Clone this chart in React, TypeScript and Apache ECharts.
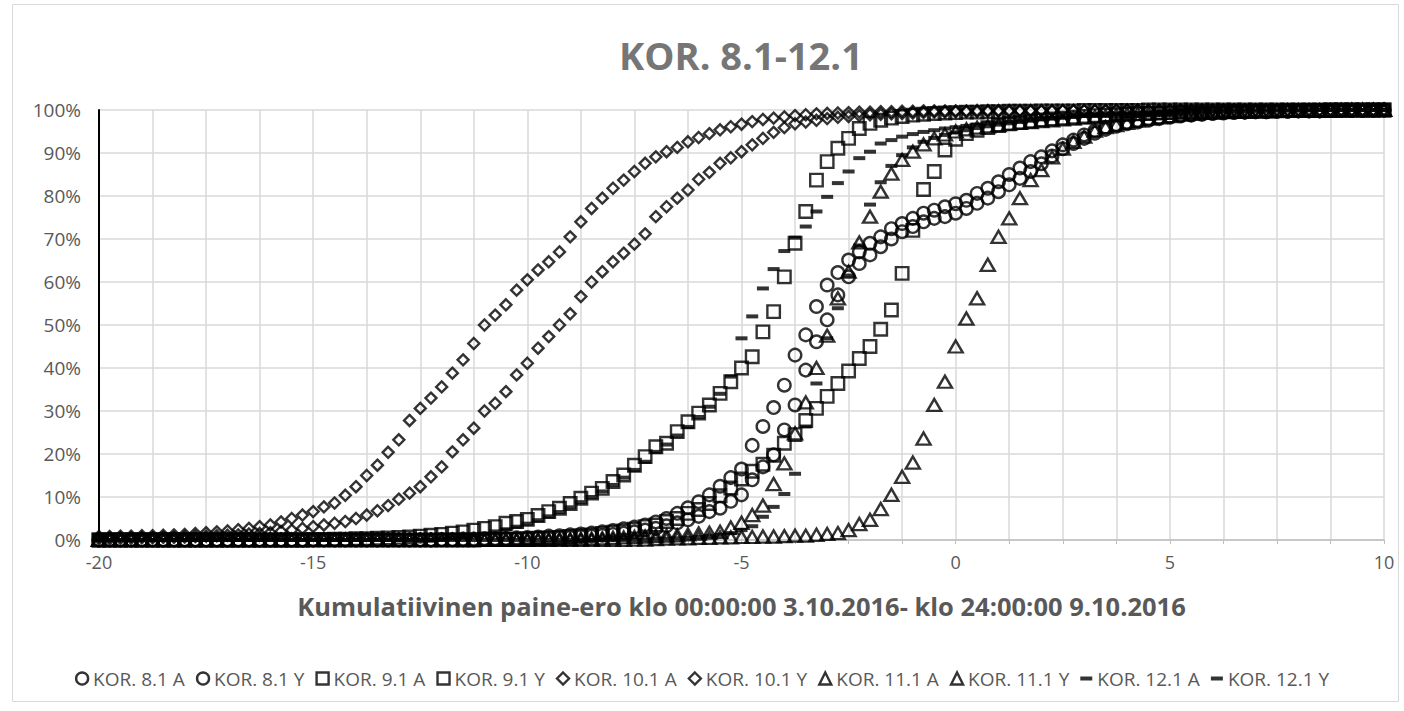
import React, { useEffect, useRef } from "react";
import * as echarts from "echarts";

const X_VALUES = [
  -20, -19.75, -19.5, -19.25, -19, -18.75, -18.5, -18.25, -18, -17.75, -17.5, -17.25, -17, -16.75, -16.5, -16.25, -16, -15.75, -15.5, -15.25,
  -15, -14.75, -14.5, -14.25, -14, -13.75, -13.5, -13.25, -13, -12.75, -12.5, -12.25, -12, -11.75, -11.5, -11.25, -11, -10.75, -10.5, -10.25,
  -10, -9.75, -9.5, -9.25, -9, -8.75, -8.5, -8.25, -8, -7.75, -7.5, -7.25, -7, -6.75, -6.5, -6.25, -6, -5.75, -5.5, -5.25,
  -5, -4.75, -4.5, -4.25, -4, -3.75, -3.5, -3.25, -3, -2.75, -2.5, -2.25, -2, -1.75, -1.5, -1.25, -1, -0.75, -0.5, -0.25,
  0, 0.25, 0.5, 0.75, 1, 1.25, 1.5, 1.75, 2, 2.25, 2.5, 2.75, 3, 3.25, 3.5, 3.75, 4, 4.25, 4.5, 4.75,
  5, 5.25, 5.5, 5.75, 6, 6.25, 6.5, 6.75, 7, 7.25, 7.5, 7.75, 8, 8.25, 8.5, 8.75, 9, 9.25, 9.5, 9.75,
  10,
];

const KOR_8_1_A = [
  0, 0, 0, 0, 0, 0, 0, 0, 0, 0, 0, 0, 0, 0, 0, 0, 0, 0, 0, 0,
  0, 0, 0, 0, 0, 0, 0, 0, 0, 0, 0, 0, 0.1, 0.1, 0.2, 0.2, 0.3, 0.3, 0.4, 0.5,
  0.6, 0.7, 0.9, 1.0, 1.2, 1.4, 1.6, 1.9, 2.2, 2.6, 3.0, 3.5, 4.2, 5.0, 6.2, 7.5, 8.9, 10.5, 12.5, 14.5,
  16.5, 22.0, 26.4, 30.8, 36.0, 43.0, 47.7, 54.3, 59.3, 62.2, 65.1, 67.0, 69.0, 70.5, 72.4, 73.6, 74.8, 76.0, 76.7, 77.5,
  78.2, 79.0, 80.6, 81.8, 83.3, 85.0, 86.5, 88.0, 89.1, 90.5, 91.9, 93.0, 94.2, 95.2, 96.0, 96.6, 97.1, 97.5, 97.9, 98.2,
  98.5, 98.7, 98.9, 99.1, 99.3, 99.4, 99.5, 99.5, 99.6, 99.6, 99.7, 99.7, 99.8, 99.8, 99.8, 99.9, 99.9, 99.9, 99.9, 99.9,
  100,
];

const KOR_8_1_Y = [
  0, 0, 0, 0, 0, 0, 0, 0, 0, 0, 0, 0, 0, 0, 0, 0, 0, 0, 0, 0,
  0, 0, 0, 0, 0, 0, 0, 0, 0, 0, 0, 0, 0, 0, 0, 0, 0.1, 0.1, 0.2, 0.2,
  0.3, 0.4, 0.4, 0.5, 0.6, 0.8, 0.9, 1.1, 1.3, 1.6, 1.9, 2.3, 2.7, 3.3, 4.0, 4.7, 5.5, 6.6, 7.4, 9.0,
  10.5, 14.0, 17.0, 19.8, 25.6, 31.4, 39.5, 46.1, 51.2, 57.0, 61.2, 64.3, 66.3, 68.2, 70.0, 71.7, 72.9, 74.0, 74.8, 75.2,
  76.0, 77.1, 78.3, 79.5, 81.0, 82.6, 84.1, 85.7, 87.5, 89.3, 91.0, 92.2, 93.4, 94.6, 95.5, 96.2, 96.8, 97.2, 97.6, 98.0,
  98.3, 98.6, 98.8, 99.0, 99.2, 99.3, 99.4, 99.5, 99.6, 99.6, 99.7, 99.7, 99.8, 99.8, 99.8, 99.9, 99.9, 99.9, 99.9, 100,
  100,
];

const KOR_9_1_A = [
  0, 0, 0, 0, 0, 0, 0, 0, 0, 0, 0, 0, 0, 0, 0, 0, 0, 0, 0, 0,
  0.1, 0.1, 0.2, 0.2, 0.3, 0.3, 0.4, 0.5, 0.6, 0.7, 0.9, 1.1, 1.3, 1.6, 1.9, 2.3, 2.7, 3.1, 3.9, 4.3,
  4.8, 5.7, 6.6, 7.4, 8.5, 9.7, 10.9, 12.0, 13.6, 15.1, 17.4, 19.4, 21.7, 22.5, 25.2, 27.5, 29.5, 31.4, 34.1, 36.8,
  40.0, 42.6, 48.4, 53.1, 61.2, 69.0, 76.4, 83.7, 88.0, 91.1, 93.4, 95.7, 96.9, 97.6, 98.1, 98.5, 98.8, 99.0, 99.2, 99.3,
  99.4, 99.5, 99.5, 99.6, 99.6, 99.7, 99.7, 99.7, 99.8, 99.8, 99.8, 99.8, 99.9, 99.9, 99.9, 99.9, 99.9, 99.9, 100, 100,
  100, 100, 100, 100, 100, 100, 100, 100, 100, 100, 100, 100, 100, 100, 100, 100, 100, 100, 100, 100,
  100,
];

const KOR_9_1_Y = [
  0, 0, 0, 0, 0, 0, 0, 0, 0, 0, 0, 0, 0, 0, 0, 0, 0, 0, 0, 0,
  0, 0, 0, 0, 0, 0, 0, 0, 0, 0, 0, 0, 0, 0, 0, 0, 0.1, 0.1, 0.2, 0.2,
  0.3, 0.4, 0.5, 0.6, 0.8, 1.0, 1.2, 1.5, 1.8, 2.1, 2.5, 3.1, 3.5, 4.3, 5.0, 6.2, 7.1, 8.5, 10.3, 12.1,
  14.2, 16.0, 17.6, 19.7, 22.5, 24.5, 27.8, 30.6, 33.4, 36.4, 39.3, 42.2, 45.0, 49.0, 53.5, 62.0, 72.0, 81.5, 85.7, 90.7,
  93.2, 94.5, 95.3, 95.9, 96.4, 96.8, 97.1, 97.4, 97.7, 97.9, 98.1, 98.3, 98.5, 98.7, 98.8, 98.9, 99.0, 99.1, 99.2, 99.3,
  99.4, 99.5, 99.5, 99.6, 99.6, 99.7, 99.7, 99.7, 99.8, 99.8, 99.8, 99.9, 99.9, 99.9, 99.9, 100, 100, 100, 100, 100,
  100,
];

const KOR_10_1_A = [
  0.8, 0.8, 0.9, 0.9, 1.0, 1.0, 1.1, 1.2, 1.3, 1.5, 1.7, 1.9, 2.1, 2.4, 2.7, 3.1, 3.5, 4.2, 5.0, 5.8,
  6.6, 7.7, 8.6, 10.4, 12.4, 15.0, 17.4, 20.4, 23.3, 27.8, 30.6, 33.0, 35.6, 38.8, 41.9, 45.7, 50.0, 52.3, 54.7, 58.1,
  60.5, 62.8, 64.7, 67.0, 70.5, 74.0, 77.1, 79.5, 81.8, 83.7, 85.7, 87.6, 89.1, 90.3, 91.3, 92.6, 93.6, 94.5, 95.4, 96.1,
  96.7, 97.3, 97.8, 98.1, 98.4, 98.7, 98.9, 99.1, 99.2, 99.3, 99.4, 99.5, 99.5, 99.6, 99.6, 99.7, 99.7, 99.8, 99.8, 99.8,
  99.8, 99.8, 99.9, 99.9, 99.9, 99.9, 99.9, 99.9, 99.9, 99.9, 99.9, 99.9, 99.9, 99.9, 99.9, 100, 100, 100, 100, 100,
  100, 100, 100, 100, 100, 100, 100, 100, 100, 100, 100, 100, 100, 100, 100, 100, 100, 100, 100, 100,
  100,
];

const KOR_10_1_Y = [
  0.3, 0.3, 0.4, 0.4, 0.5, 0.5, 0.6, 0.6, 0.7, 0.8, 0.9, 1.0, 1.1, 1.2, 1.4, 1.5, 1.7, 2.0, 2.3, 2.7,
  3.1, 3.5, 3.9, 4.3, 5.0, 5.8, 6.8, 8.0, 9.5, 10.9, 12.4, 14.7, 17.0, 20.5, 23.3, 26.0, 30.0, 31.8, 34.5, 38.4,
  41.1, 44.6, 47.3, 50.0, 52.6, 56.6, 60.0, 62.4, 64.7, 66.7, 68.8, 71.2, 75.2, 77.5, 79.5, 81.4, 83.9, 85.5, 87.6, 88.9,
  90.3, 91.9, 93.4, 94.8, 95.9, 96.8, 97.2, 97.6, 98.0, 98.3, 98.5, 98.7, 98.9, 99.0, 99.1, 99.2, 99.3, 99.4, 99.5, 99.5,
  99.6, 99.6, 99.6, 99.7, 99.7, 99.7, 99.8, 99.8, 99.8, 99.8, 99.9, 99.9, 99.9, 99.9, 99.9, 99.9, 100, 100, 100, 100,
  100, 100, 100, 100, 100, 100, 100, 100, 100, 100, 100, 100, 100, 100, 100, 100, 100, 100, 100, 100,
  100,
];

const KOR_11_1_A = [
  0, 0, 0, 0, 0, 0, 0, 0, 0, 0, 0, 0, 0, 0, 0, 0, 0, 0, 0, 0,
  0, 0, 0, 0, 0, 0, 0, 0, 0, 0, 0, 0, 0, 0, 0, 0, 0, 0, 0, 0,
  0.1, 0.1, 0.1, 0.2, 0.2, 0.3, 0.3, 0.4, 0.5, 0.6, 0.7, 0.8, 0.9, 1.0, 1.1, 1.3, 1.5, 1.7, 1.9, 2.9,
  4.0, 5.8, 8.0, 13.0, 17.8, 24.8, 32.0, 40.0, 47.5, 56.2, 62.4, 69.2, 75.2, 81.0, 85.2, 88.4, 90.3, 92.0, 93.4, 94.3,
  95.0, 95.5, 95.9, 96.2, 96.5, 96.8, 97.0, 97.2, 97.4, 97.6, 97.8, 98.0, 98.2, 98.4, 98.6, 98.8, 99.0, 99.1, 99.2, 99.3,
  99.4, 99.5, 99.5, 99.6, 99.6, 99.7, 99.7, 99.7, 99.8, 99.8, 99.8, 99.9, 99.9, 99.9, 99.9, 99.9, 100, 100, 100, 100,
  100,
];

const KOR_11_1_Y = [
  0, 0, 0, 0, 0, 0, 0, 0, 0, 0, 0, 0, 0, 0, 0, 0, 0, 0, 0, 0,
  0, 0, 0, 0, 0, 0, 0, 0, 0, 0, 0, 0, 0, 0, 0, 0, 0, 0, 0, 0,
  0, 0, 0, 0, 0, 0, 0, 0, 0, 0, 0.1, 0.1, 0.2, 0.3, 0.4, 0.4, 0.5, 0.5, 0.6, 0.6,
  0.7, 0.7, 0.8, 0.8, 0.9, 1.0, 1.0, 1.2, 1.4, 1.6, 2.3, 3.7, 4.7, 7.2, 10.5, 14.7, 18.0, 23.6, 31.4, 36.8,
  45.0, 51.5, 56.2, 64.0, 70.5, 74.8, 79.5, 83.7, 86.0, 89.0, 91.0, 92.6, 93.8, 95.2, 96.0, 96.5, 97.0, 97.5, 98.0, 98.3,
  98.6, 98.9, 99.1, 99.3, 99.4, 99.5, 99.6, 99.6, 99.7, 99.7, 99.8, 99.8, 99.8, 99.9, 99.9, 99.9, 99.9, 100, 100, 100,
  100,
];

const KOR_12_1_A = [
  0, 0, 0, 0, 0, 0, 0, 0, 0, 0, 0, 0, 0, 0, 0, 0, 0, 0, 0, 0,
  0, 0, 0, 0, 0, 0, 0, 0, 0, 0, 0, 0, 0.3, 0.5, 0.8, 1.1, 1.5, 2.0, 2.5, 3.1,
  3.8, 4.6, 5.5, 6.5, 7.6, 8.8, 10.0, 11.3, 12.8, 14.5, 16.3, 18.2, 20.5, 22.2, 24.3, 26.3, 28.6, 31.0, 34.0, 38.0,
  46.9, 52.0, 58.5, 63.0, 67.2, 70.3, 72.9, 76.4, 79.8, 83.0, 85.7, 88.8, 90.3, 92.2, 93.0, 93.8, 94.4, 94.9, 95.3, 95.7,
  96.0, 96.3, 96.6, 96.9, 97.1, 97.3, 97.5, 97.7, 97.9, 98.1, 98.3, 98.5, 98.7, 98.9, 99.0, 99.1, 99.2, 99.3, 99.4, 99.5,
  99.6, 99.6, 99.7, 99.7, 99.7, 99.8, 99.8, 99.8, 99.9, 99.9, 99.9, 99.9, 99.9, 100, 100, 100, 100, 100, 100, 100,
  100,
];

const KOR_12_1_Y = [
  0, 0, 0, 0, 0, 0, 0, 0, 0, 0, 0, 0, 0, 0, 0, 0, 0, 0, 0, 0,
  0, 0, 0, 0, 0, 0, 0, 0, 0, 0, 0, 0, 0, 0, 0, 0, 0, 0, 0, 0,
  0, 0, 0, 0, 0, 0, 0, 0, 0, 0, 0, 0, 0.2, 0.3, 0.4, 0.5, 0.7, 0.9, 1.2, 1.6,
  2.3, 3.2, 5.4, 7.7, 10.7, 15.4, 26.4, 36.4, 46.9, 53.9, 61.5, 68.5, 78.0, 83.2, 87.0, 89.5, 91.3, 92.6, 93.5, 94.2,
  94.8, 95.3, 95.8, 96.2, 96.6, 96.9, 97.2, 97.5, 97.8, 98.0, 98.2, 98.4, 98.6, 98.8, 98.9, 99.0, 99.1, 99.2, 99.3, 99.4,
  99.5, 99.5, 99.6, 99.6, 99.7, 99.7, 99.7, 99.8, 99.8, 99.8, 99.9, 99.9, 99.9, 99.9, 100, 100, 100, 100, 100, 100,
  100,
];

const SERIES_NAMES = [
  "KOR. 8.1 A", "KOR. 8.1 Y", "KOR. 9.1 A", "KOR. 9.1 Y", "KOR. 10.1 A",
  "KOR. 10.1 Y", "KOR. 11.1 A", "KOR. 11.1 Y", "KOR. 12.1 A", "KOR. 12.1 Y",
];
const SERIES_VALUES = [
  KOR_8_1_A, KOR_8_1_Y, KOR_9_1_A, KOR_9_1_Y, KOR_10_1_A,
  KOR_10_1_Y, KOR_11_1_A, KOR_11_1_Y, KOR_12_1_A, KOR_12_1_Y,
];
const SERIES_MARKERS = ["circle", "circle", "square", "square", "diamond", "diamond", "triangle", "triangle", "dash", "dash"];

const TITLE = "KOR. 8.1-12.1";
const X_NAME = "Kumulatiivinen paine-ero klo 00:00:00 3.10.2016- klo 24:00:00 9.10.2016";

const FONT = "'Open Sans', 'Noto Sans', sans-serif";
const DASH_PATH = "path://M0,0L12,0L12,4L0,4Z";

function markerStyle(kind: string) {
  const hollow = { color: "rgba(0,0,0,0)", borderColor: "#000", borderWidth: 2.4 };
  switch (kind) {
    case "circle":
      return { symbol: "circle", symbolSize: 12.5, itemStyle: hollow, icon: "circle" };
    case "square":
      return { symbol: "rect", symbolSize: 12.5, itemStyle: hollow, icon: "rect" };
    case "diamond":
      return { symbol: "diamond", symbolSize: [11, 11], itemStyle: hollow, icon: "diamond" };
    case "triangle":
      return { symbol: "triangle", symbolSize: [14, 12], itemStyle: hollow, icon: "triangle" };
    default:
      return { symbol: "rect", symbolSize: [12, 4], itemStyle: { color: "#000", borderWidth: 0 }, icon: DASH_PATH };
  }
}

export default function App() {
  const ref = useRef<HTMLDivElement>(null);
  useEffect(() => {
    if (!ref.current) return;
    const chart = echarts.init(ref.current, null, { renderer: "svg" });
    const series = SERIES_NAMES.map((name, k) => {
      const m = markerStyle(SERIES_MARKERS[k]);
      return {
        name,
        type: "scatter",
        symbol: m.symbol,
        symbolSize: m.symbolSize,
        itemStyle: m.itemStyle,
        data: X_VALUES.map((x, i) => [x, SERIES_VALUES[k][i]]),
        emphasis: { disabled: true },
      };
    });
    const legendData = SERIES_NAMES.map((name, k) => {
      const m = markerStyle(SERIES_MARKERS[k]);
      return { name, icon: m.icon, itemStyle: m.itemStyle };
    });
    chart.setOption({
      animation: false,
      backgroundColor: "#fff",
      textStyle: { fontFamily: FONT },
      grid: { left: 99, right: 20, top: 110, bottom: 171, containLabel: false },
      graphic: [
        {
          type: "rect",
          shape: { x: 12.5, y: 4.5, width: 1386, height: 697 },
          style: { fill: "none", stroke: "#d9d9d9", lineWidth: 1 },
          silent: true,
          z: -10,
        },
        {
          type: "text",
          x: 741,
          y: 55,
          style: {
            text: TITLE,
            fill: "#767676",
            font: `bold 38px ${FONT}`,
            textAlign: "center",
            textVerticalAlign: "middle",
          },
          silent: true,
        },
      ],
      legend: {
        data: legendData,
        top: 664,
        left: "center",
        itemWidth: 12,
        itemHeight: 12,
        itemGap: 11,
        textStyle: { color: "#595959", fontSize: 19, fontFamily: FONT },
      },
      xAxis: {
        type: "value",
        min: -20,
        max: 10,
        interval: 5,
        name: X_NAME,
        nameLocation: "middle",
        nameGap: 53,
        nameTextStyle: { color: "#595959", fontSize: 25.5, fontWeight: "bold", fontFamily: FONT },
        axisLine: { show: true, onZero: false, lineStyle: { color: "#bfbfbf", width: 1.5 } },
        axisTick: { show: true, length: 4, lineStyle: { color: "#bfbfbf" } },
        minorTick: { show: true, splitNumber: 4, length: 4, lineStyle: { color: "#bfbfbf" } },
        axisLabel: { color: "#595959", fontSize: 18, margin: 13, fontFamily: FONT },
        splitLine: { show: true, lineStyle: { color: "#d9d9d9", width: 1.5 } },
        minorSplitLine: { show: true, lineStyle: { color: "#d9d9d9", width: 1.5 } },
      },
      yAxis: {
        type: "value",
        min: 0,
        max: 100,
        interval: 10,
        axisLine: { show: true, onZero: false, lineStyle: { color: "#000", width: 2 } },
        axisTick: { show: false },
        axisLabel: { color: "#595959", fontSize: 19, margin: 18, formatter: "{value}%", fontFamily: FONT },
        splitLine: { show: true, lineStyle: { color: "#d9d9d9", width: 1.5 } },
      },
      series,
    });
    return () => chart.dispose();
  }, []);
  return (
    <div
      ref={ref}
      style={{ position: "fixed", left: 0, top: 0, width: 1404, height: 711, background: "#fff" }}
    />
  );
}
